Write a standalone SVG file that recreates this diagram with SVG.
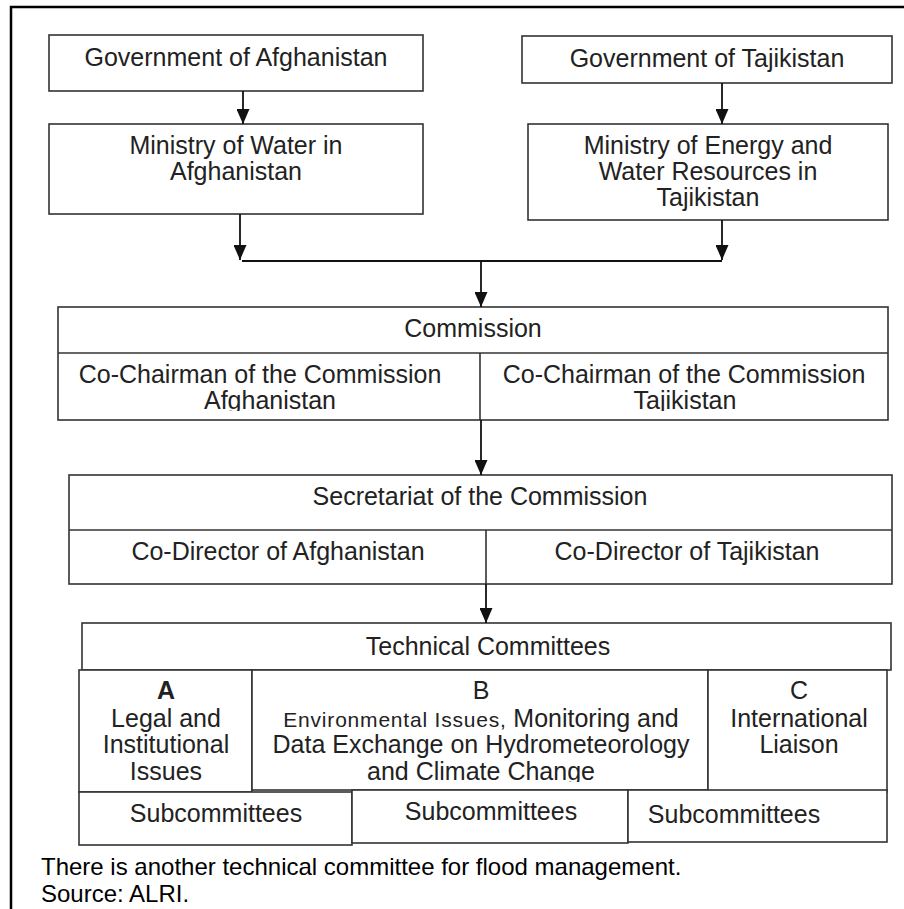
<svg xmlns="http://www.w3.org/2000/svg" width="904" height="909" viewBox="0 0 904 909">
<style>
  .box { fill: #fff; stroke: #333; stroke-width: 1.6; }
  .div { stroke: #333; stroke-width: 1.6; fill: none; }
  .t { font-family: "Liberation Sans", Arial, sans-serif; font-size: 25px; fill: #222; text-anchor: middle; }
  .b { font-weight: bold; }
  .note { font-family: "Liberation Sans", Arial, sans-serif; font-size: 24px; fill: #000; }
  .con { stroke: #111; stroke-width: 1.8; fill: none; }
  .frame { stroke: #000; stroke-width: 2.5; fill: none; }
</style>
<defs>
  <marker id="ah" viewBox="0 0 15 13" refX="15" refY="6.5" markerWidth="15" markerHeight="13" orient="auto" markerUnits="userSpaceOnUse">
    <path d="M0,0 L15,6.5 L0,13 z" fill="#111"/>
  </marker>
  <clipPath id="clipCommRow"><rect x="58" y="353" width="830" height="58"/></clipPath>
  <clipPath id="clipB"><rect x="252" y="670" width="456" height="112"/></clipPath>
</defs>
<rect width="904" height="909" fill="#fff"/>
<path class="frame" d="M11,909 L11,7 L904,7"/>

<g id="gov-afghanistan">
  <rect class="box" x="49" y="35" width="374" height="56"/>
  <text class="t" x="236" y="66">Government of Afghanistan</text>
</g>
<g id="gov-tajikistan">
  <rect class="box" x="522" y="36" width="370" height="47"/>
  <text class="t" x="707" y="67">Government of Tajikistan</text>
</g>
<g id="ministry-water-afghanistan">
  <rect class="box" x="49" y="124" width="374" height="90"/>
  <text class="t" x="236" y="154">Ministry of Water in</text>
  <text class="t" x="236" y="180">Afghanistan</text>
</g>
<g id="ministry-energy-tajikistan">
  <rect class="box" x="528" y="124" width="360" height="96"/>
  <text class="t" x="708" y="154">Ministry of Energy and</text>
  <text class="t" x="708" y="180">Water Resources in</text>
  <text class="t" x="708" y="206">Tajikistan</text>
</g>
<g id="commission">
  <rect class="box" x="58" y="307" width="830" height="113"/>
  <line class="div" x1="58" y1="353" x2="888" y2="353"/>
  <line class="div" x1="480" y1="353" x2="480" y2="420"/>
  <text class="t" x="473" y="337">Commission</text>
  <g clip-path="url(#clipCommRow)">
    <text class="t" x="260" y="383">Co-Chairman of the Commission</text>
    <text class="t" x="270" y="409">Afghanistan</text>
    <text class="t" x="684" y="383">Co-Chairman of the Commission</text>
    <text class="t" x="685" y="409">Tajikistan</text>
  </g>
</g>
<g id="secretariat">
  <rect class="box" x="69" y="475" width="823" height="109"/>
  <line class="div" x1="69" y1="530" x2="892" y2="530"/>
  <line class="div" x1="486" y1="530" x2="486" y2="584"/>
  <text class="t" x="480" y="505">Secretariat of the Commission</text>
  <text class="t" x="278" y="560">Co-Director of Afghanistan</text>
  <text class="t" x="687" y="560">Co-Director of Tajikistan</text>
</g>
<g id="technical-committees">
  <rect class="box" x="82" y="623" width="809" height="47"/>
  <text class="t" x="488" y="655">Technical Committees</text>
</g>
<g id="committee-a">
  <rect class="box" x="79" y="670" width="173" height="122"/>
  <text class="t b" x="166" y="699">A</text>
  <text class="t" x="166" y="727">Legal and</text>
  <text class="t" x="166" y="753">Institutional</text>
  <text class="t" x="166" y="780">Issues</text>
</g>
<g id="committee-b">
  <rect class="box" x="252" y="670" width="456" height="120"/>
  <g clip-path="url(#clipB)">
    <text class="t" x="481" y="699">B</text>
    <text class="t" x="481" y="727"><tspan font-size="21" letter-spacing="0.8">Environmental Issues, </tspan>Monitoring and</text>
    <text class="t" x="481" y="753">Data Exchange on Hydrometeorology</text>
    <text class="t" x="481" y="780">and Climate Change</text>
  </g>
</g>
<g id="committee-c">
  <rect class="box" x="708" y="670" width="179" height="122"/>
  <text class="t" x="799" y="699">C</text>
  <text class="t" x="799" y="727">International</text>
  <text class="t" x="799" y="753">Liaison</text>
</g>
<g id="subcommittees-a">
  <rect class="box" x="79" y="792" width="273" height="53"/>
  <text class="t" x="216" y="822">Subcommittees</text>
</g>
<g id="subcommittees-b">
  <rect class="box" x="352" y="790" width="276" height="53"/>
  <text class="t" x="491" y="820">Subcommittees</text>
</g>
<g id="subcommittees-c">
  <rect class="box" x="628" y="790" width="259" height="52"/>
  <text class="t" x="734" y="823">Subcommittees</text>
</g>

<g id="connectors">
  <line class="con" x1="243" y1="91" x2="243" y2="124" marker-end="url(#ah)"/>
  <line class="con" x1="722" y1="83" x2="722" y2="124" marker-end="url(#ah)"/>
  <line class="con" x1="240" y1="214" x2="240" y2="260" marker-end="url(#ah)"/>
  <line class="con" x1="722" y1="220" x2="722" y2="260" marker-end="url(#ah)"/>
  <line class="con" x1="242" y1="261" x2="722" y2="261"/>
  <line class="con" x1="481" y1="261" x2="481" y2="307" marker-end="url(#ah)"/>
  <line class="con" x1="481" y1="420" x2="481" y2="475" marker-end="url(#ah)"/>
  <line class="con" x1="486" y1="584" x2="486" y2="623" marker-end="url(#ah)"/>
</g>

<text class="note" x="41" y="875">There is another technical committee for flood management.</text>
<text class="note" x="41" y="902">Source: ALRI.</text>
</svg>
